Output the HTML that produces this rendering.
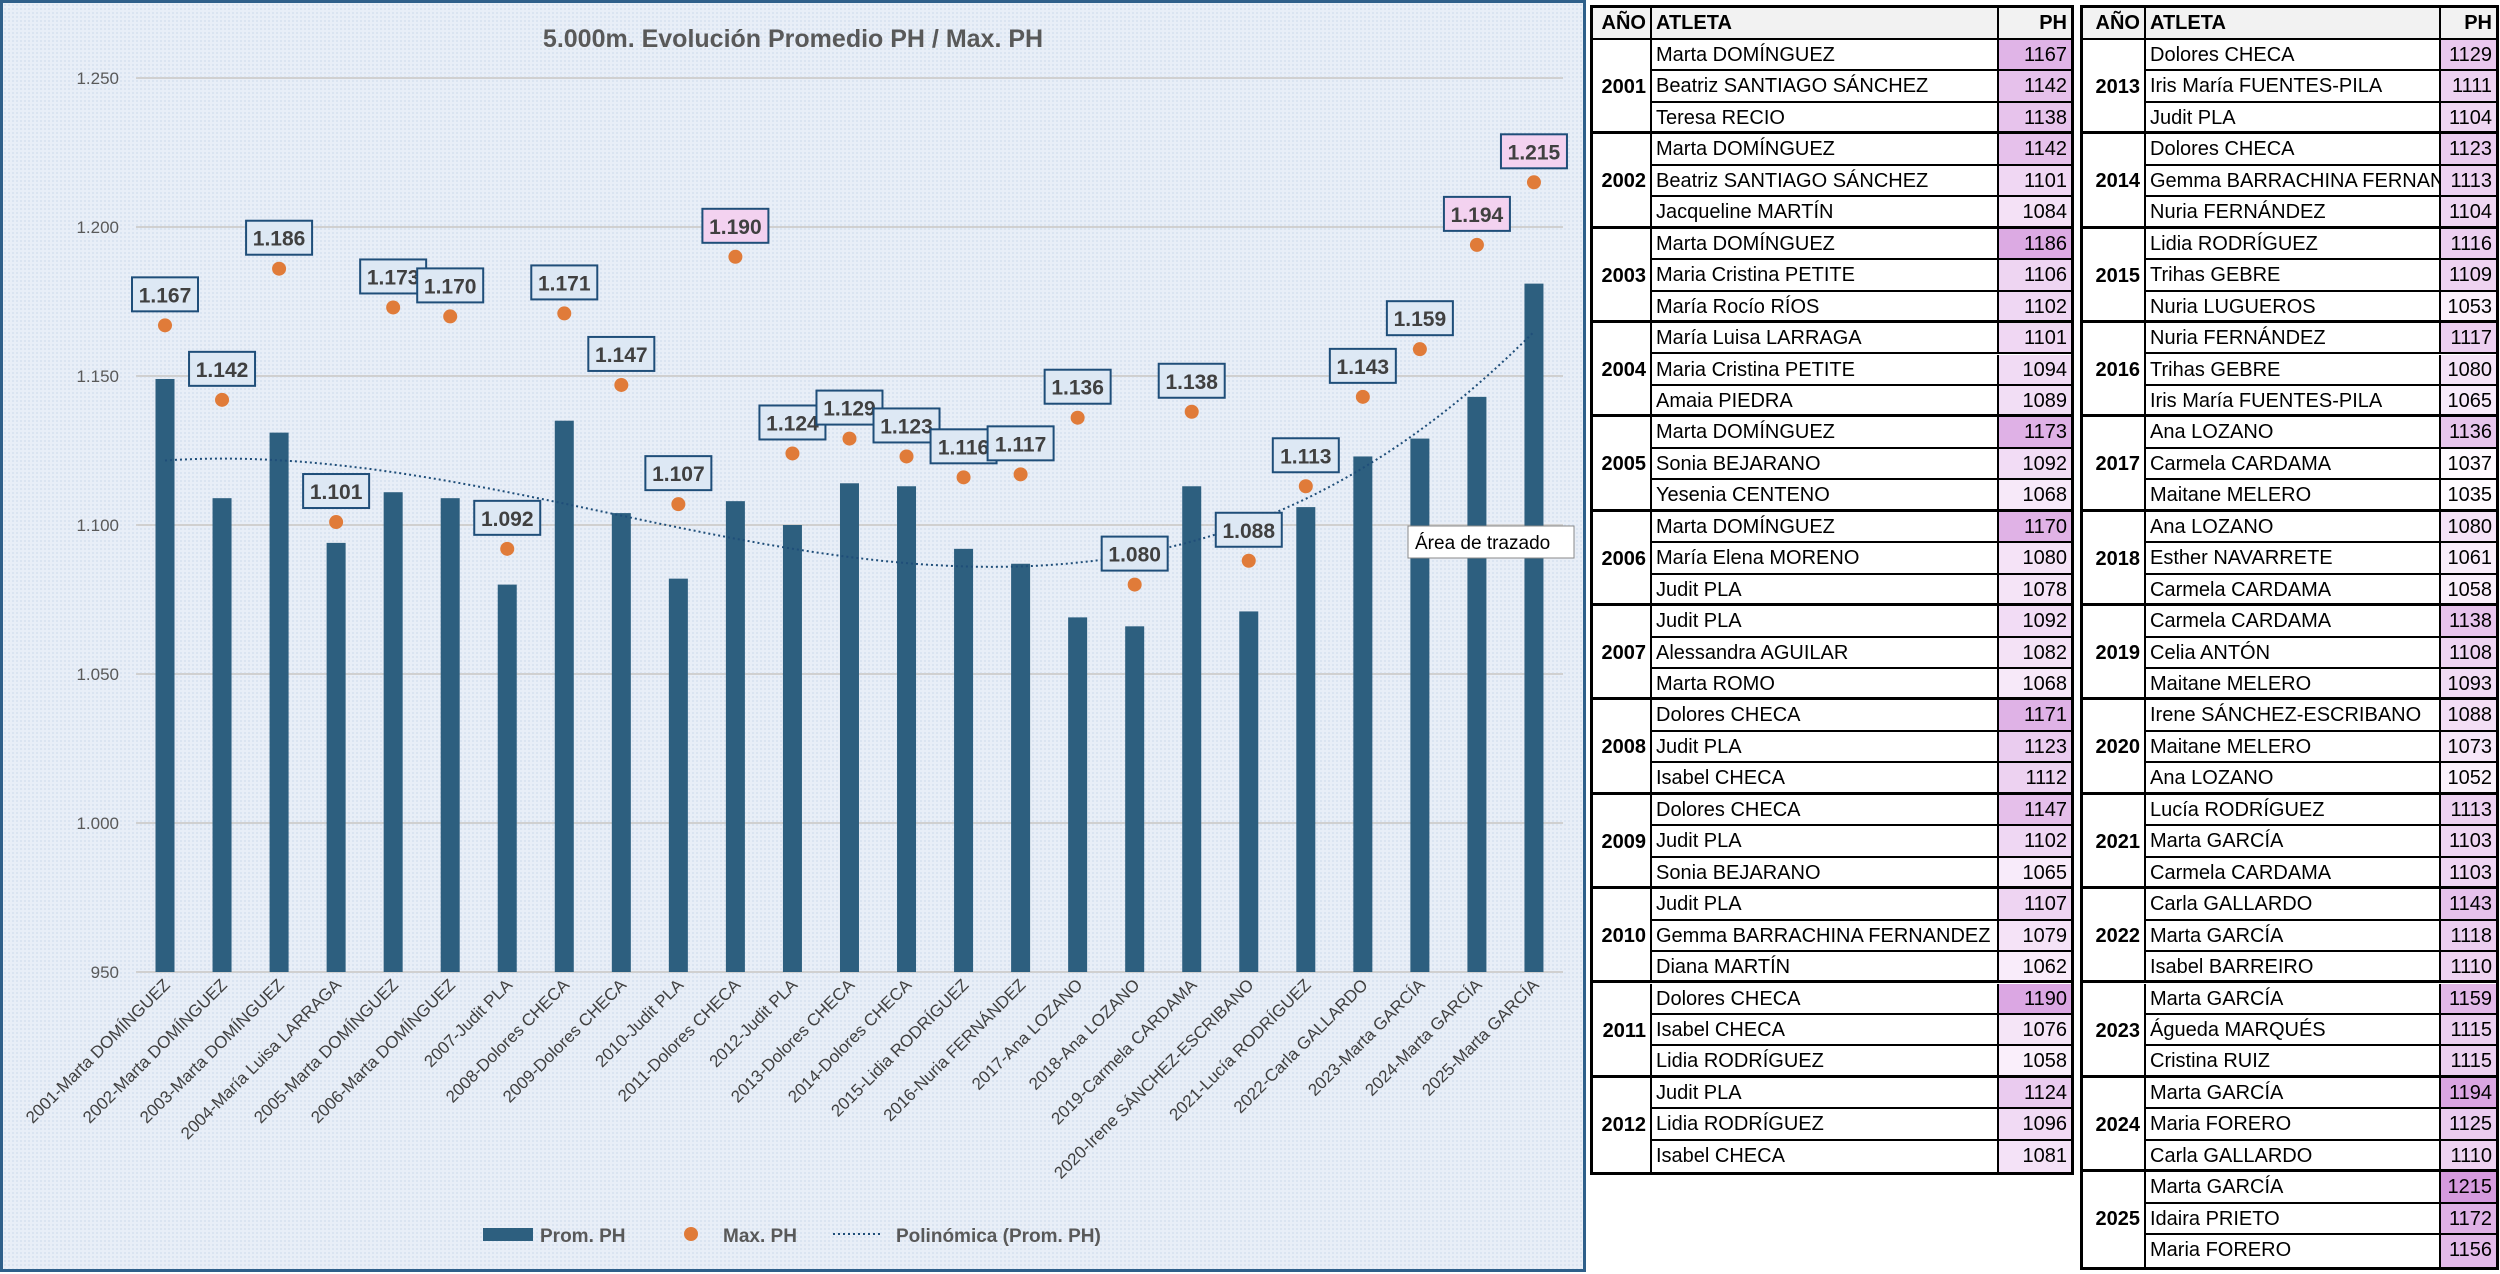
<!DOCTYPE html>
<html><head><meta charset="utf-8">
<style>
body{margin:0;width:2500px;height:1273px;background:#fff;overflow:hidden;font-family:"Liberation Sans",sans-serif;position:relative}
#chart{position:absolute;left:0;top:0;width:1580px;height:1266px;border:3px solid #2e5f8a;background-color:#e8eef7;
background-image:radial-gradient(#d5e0ef 1px,transparent 1px);background-size:4px 4px}
.cell{position:absolute;box-sizing:border-box;font-size:20px;line-height:31px;white-space:nowrap;overflow:hidden;color:#000}
</style></head><body>
<div id="chart">
<svg id="svg" width="1580" height="1266"></svg>
</div>
<div id="tables"></div>
<script>
const years=["2001","2002","2003","2004","2005","2006","2007","2008","2009","2010","2011","2012","2013","2014","2015","2016","2017","2018","2019","2020","2021","2022","2023","2024","2025"];
const cats=["2001-Marta DOMÍNGUEZ","2002-Marta DOMÍNGUEZ","2003-Marta DOMÍNGUEZ","2004-María Luisa LARRAGA","2005-Marta DOMÍNGUEZ","2006-Marta DOMÍNGUEZ","2007-Judit PLA","2008-Dolores CHECA","2009-Dolores CHECA","2010-Judit PLA","2011-Dolores CHECA","2012-Judit PLA","2013-Dolores CHECA","2014-Dolores CHECA","2015-Lidia RODRÍGUEZ","2016-Nuria FERNÁNDEZ","2017-Ana LOZANO","2018-Ana LOZANO","2019-Carmela CARDAMA","2020-Irene SÁNCHEZ-ESCRIBANO","2021-Lucía RODRÍGUEZ","2022-Carla GALLARDO","2023-Marta GARCÍA","2024-Marta GARCÍA","2025-Marta GARCÍA"];
const promPH=[1149,1109,1131,1094,1111,1109,1080,1135,1104,1082,1108,1100,1114,1113,1092,1087,1069,1066,1113,1071,1106,1123,1129,1143,1181];
const maxPH=[1167,1142,1186,1101,1173,1170,1092,1171,1147,1107,1190,1124,1129,1123,1116,1117,1136,1080,1138,1088,1113,1143,1159,1194,1215];
const pinkLabels=[1190,1194,1215];
const yTicks=[950,1000,1050,1100,1150,1200,1250];
const yTickLabels=["950","1.000","1.050","1.100","1.150","1.200","1.250"];

const NS="http://www.w3.org/2000/svg";
const svg=document.getElementById('svg');
const yMin=950,yMax=1250,yTop=75,yBot=969;
function Y(v){return yBot-(v-yMin)/(yMax-yMin)*(yBot-yTop);}
function X(i){return 162+i*57.04;}
function el(t,a,p){const e=document.createElementNS(NS,t);for(const k in a)e.setAttribute(k,a[k]);(p||svg).appendChild(e);return e;}

let t=el('text',{x:790,y:44,'text-anchor':'middle','font-size':25,'font-weight':'bold',fill:'#595959'});t.textContent='5.000m. Evolución Promedio PH / Max. PH';



yTicks.forEach((v,i)=>{
 const g=el('line',{x1:133,x2:1560,y1:Y(v),y2:Y(v),stroke:'#d0d0d0','stroke-width':2});
 
 
 const l=el('text',{x:116,y:Y(v)+6,'text-anchor':'end','font-size':17,fill:'#595959'});l.textContent=yTickLabels[i];
 
 
});

promPH.forEach((v,i)=>{
 const b=el('rect',{x:X(i)-9.5,y:Y(v),width:19,height:yBot-Y(v),fill:'#2d5f7f'});
 
 
 const l=el('text',{'text-anchor':'end','font-size':17,fill:'#404040',transform:`translate(${X(i)+6},${yBot+14}) rotate(-45)`});
 l.textContent=cats[i];
 
 
});

// polynomial (order 3) trendline fit from promPH
(function(){
 const n=promPH.length,O=3,M=O+1;
 const A=[];for(let r=0;r<M;r++){A.push(new Array(M+1).fill(0));}
 for(let i=0;i<n;i++){const x=(i+1)/n,y=promPH[i];for(let r=0;r<M;r++){for(let c=0;c<M;c++)A[r][c]+=Math.pow(x,r+c);A[r][M]+=y*Math.pow(x,r);}}
 for(let c=0;c<M;c++){for(let r=c+1;r<M;r++){const f=A[r][c]/A[c][c];for(let k=c;k<=M;k++)A[r][k]-=f*A[c][k];}}
 const co=new Array(M).fill(0);for(let r=M-1;r>=0;r--){let s=A[r][M];for(let k=r+1;k<M;k++)s-=A[r][k]*co[k];co[r]=s/A[r][r];}
 let d='';for(let s=0;s<=(n-1)*10;s++){const xi=1+s/10,x=xi/n;let v=0;for(let k=0;k<M;k++)v+=co[k]*Math.pow(x,k);d+=(s?'L':'M')+X(xi-1).toFixed(1)+','+Y(v).toFixed(1);}
 const p=el('path',{d:d,fill:'none',stroke:'#1f4e79','stroke-width':2,'stroke-dasharray':'2 3'});
 
 
})();

maxPH.forEach((v,i)=>{
 const c=el('circle',{cx:X(i),cy:Y(v),r:7,fill:'#e07b39'});
 
 
 const pink=pinkLabels.includes(v);
 const cy=Y(v)-31;
 const r=el('rect',{x:X(i)-33,y:cy-17,width:66,height:34,fill:pink?'#f3d2f0':'#dde8f4',stroke:'#1f4e79','stroke-width':2});
 
 
 const tx=el('text',{x:X(i),y:cy+8,'text-anchor':'middle','font-size':21,'font-weight':'bold',fill:'#404040'});
 tx.textContent=(v/1000).toFixed(3);
 
 
});

let tr=el('rect',{x:1405,y:523,width:166,height:32,fill:'#fff',stroke:'#888','stroke-width':1});


let tt=el('text',{x:1412,y:546,'font-size':19,fill:'#000'});tt.textContent='Área de trazado';



let lg=el('g',{});


el('rect',{x:480,y:1225,width:50,height:13,fill:'#2d5f7f'},lg);
let l1=el('text',{x:537,y:1239,'font-size':19,'font-weight':'bold',fill:'#595959'},lg);l1.textContent='Prom. PH';
el('circle',{cx:688,cy:1231,r:7,fill:'#e07b39'},lg);
let l2=el('text',{x:720,y:1239,'font-size':19,'font-weight':'bold',fill:'#595959'},lg);l2.textContent='Max. PH';
el('line',{x1:830,x2:880,y1:1231,y2:1231,stroke:'#1f4e79','stroke-width':2,'stroke-dasharray':'2 3'},lg);
let l3=el('text',{x:893,y:1239,'font-size':19,'font-weight':'bold',fill:'#595959'},lg);l3.textContent='Polinómica (Prom. PH)';

const tblNames=[["Marta DOMÍNGUEZ","Beatriz SANTIAGO SÁNCHEZ","Teresa RECIO"],["Marta DOMÍNGUEZ","Beatriz SANTIAGO SÁNCHEZ","Jacqueline MARTÍN"],["Marta DOMÍNGUEZ","Maria Cristina PETITE","María Rocío RÍOS"],["María Luisa LARRAGA","Maria Cristina PETITE","Amaia PIEDRA"],["Marta DOMÍNGUEZ","Sonia BEJARANO","Yesenia CENTENO"],["Marta DOMÍNGUEZ","María Elena MORENO","Judit PLA"],["Judit PLA","Alessandra AGUILAR","Marta ROMO"],["Dolores CHECA","Judit PLA","Isabel CHECA"],["Dolores CHECA","Judit PLA","Sonia BEJARANO"],["Judit PLA","Gemma BARRACHINA FERNANDEZ","Diana MARTÍN"],["Dolores CHECA","Isabel CHECA","Lidia RODRÍGUEZ"],["Judit PLA","Lidia RODRÍGUEZ","Isabel CHECA"],["Dolores CHECA","Iris María FUENTES-PILA","Judit PLA"],["Dolores CHECA","Gemma BARRACHINA FERNANDEZ","Nuria FERNÁNDEZ"],["Lidia RODRÍGUEZ","Trihas GEBRE","Nuria LUGUEROS"],["Nuria FERNÁNDEZ","Trihas GEBRE","Iris María FUENTES-PILA"],["Ana LOZANO","Carmela CARDAMA","Maitane MELERO"],["Ana LOZANO","Esther NAVARRETE","Carmela CARDAMA"],["Carmela CARDAMA","Celia ANTÓN","Maitane MELERO"],["Irene SÁNCHEZ-ESCRIBANO","Maitane MELERO","Ana LOZANO"],["Lucía RODRÍGUEZ","Marta GARCÍA","Carmela CARDAMA"],["Carla GALLARDO","Marta GARCÍA","Isabel BARREIRO"],["Marta GARCÍA","Águeda MARQUÉS","Cristina RUIZ"],["Marta GARCÍA","Maria FORERO","Carla GALLARDO"],["Marta GARCÍA","Idaira PRIETO","Maria FORERO"]];
const tblPH=[[1167,1142,1138],[1142,1101,1084],[1186,1106,1102],[1101,1094,1089],[1173,1092,1068],[1170,1080,1078],[1092,1082,1068],[1171,1123,1112],[1147,1102,1065],[1107,1079,1062],[1190,1076,1058],[1124,1096,1081],[1129,1111,1104],[1123,1113,1104],[1116,1109,1053],[1117,1080,1065],[1136,1037,1035],[1080,1061,1058],[1138,1108,1093],[1088,1073,1052],[1113,1103,1103],[1143,1118,1110],[1159,1115,1115],[1194,1125,1110],[1215,1172,1156]];

const tc=document.getElementById('tables');
const RH=31.45,HT=8,HH=32;
function div(css,txt,name){const d=document.createElement('div');d.className='cell';d.style.cssText=css;if(txt!=null)d.textContent=txt;
 
 
 tc.appendChild(d);return d;}
function pinkColor(v){let t=Math.max(0,Math.min(1,(v-1035)/180));return `rgb(${Math.round(255-42*t)},${Math.round(251-97*t)},${Math.round(255-33*t)})`;}
function drawTable(x0,cols,startYear,nYears){
 const w=cols[3];
 div(`left:${x0-3}px;top:${HT-3}px;width:${w+6}px;height:${HH+nYears*3*RH+6}px;border:3px solid #000;background:#fff`,null,'table-frame');
 div(`left:${x0}px;top:${HT}px;width:${cols[1]}px;height:${HH}px;font-weight:bold;text-align:right;padding-right:4px;background:#f2f2f2;border-right:2px solid #000;border-bottom:2px solid #000`,'AÑO','header-year');
 div(`left:${x0+cols[1]}px;top:${HT}px;width:${cols[2]-cols[1]}px;height:${HH}px;font-weight:bold;padding-left:4px;background:#f2f2f2;border-right:2px solid #000;border-bottom:2px solid #000`,'ATLETA','header-athlete');
 div(`left:${x0+cols[2]}px;top:${HT}px;width:${cols[3]-cols[2]}px;height:${HH}px;font-weight:bold;text-align:right;padding-right:4px;background:#f2f2f2;border-bottom:2px solid #000`,'PH','header-ph');
 for(let k=0;k<nYears;k++){
  const yi=startYear+k;const top=HT+HH+k*3*RH;const last=k==nYears-1;
  div(`left:${x0}px;top:${top}px;width:${cols[1]}px;height:${3*RH}px;line-height:${3*RH}px;font-weight:bold;text-align:right;padding-right:4px;border-right:2px solid #000;border-bottom:${last?0:3}px solid #000`,years[yi],'year-cell');
  for(let r=0;r<3;r++){
   const ry=top+r*RH;const bb=r==2?(last?'0px':'3px'):'2px';
   div(`left:${x0+cols[1]}px;top:${ry}px;width:${cols[2]-cols[1]}px;height:${RH}px;padding-left:4px;border-right:2px solid #000;border-bottom:${bb} solid #000`,tblNames[yi][r],'athlete-cell');
   div(`left:${x0+cols[2]}px;top:${ry}px;width:${cols[3]-cols[2]}px;height:${RH}px;text-align:right;padding-right:4px;border-bottom:${bb} solid #000;background:${pinkColor(tblPH[yi][r])}`,tblPH[yi][r],'ph-cell');
  }
 }
}
drawTable(1593,[0,59,406,478],0,12);
drawTable(2083,[0,63,358,413],12,13);
</script>
</body></html>
